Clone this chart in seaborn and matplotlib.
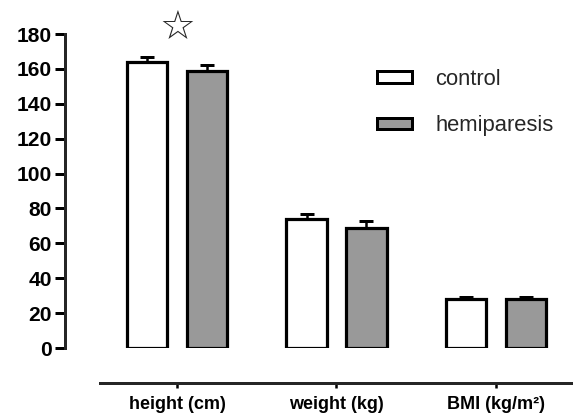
import matplotlib
matplotlib.use("Agg")
import matplotlib.pyplot as plt
import seaborn as sns
import pandas as pd
from matplotlib.patches import Patch

categories = ["height (cm)", "weight (kg)", "BMI (kg/m\u00b2)"]
groups = ["control", "hemiparesis"]
control_vals = [164, 74, 28]
hemi_vals = [159, 69, 28]
control_err = [3, 3, 1]
hemi_err = [3, 4, 1]
yticks = [0, 20, 40, 60, 80, 100, 120, 140, 160, 180]

df = pd.DataFrame({
    "category": categories * 2,
    "group": [groups[0]] * 3 + [groups[1]] * 3,
    "value": control_vals + hemi_vals,
})
errs = {groups[0]: control_err, groups[1]: hemi_err}
colors = {groups[0]: "white", groups[1]: "#999999"}

sns.set_style("white")
plt.rcParams["font.family"] = ["Liberation Sans", "DejaVu Sans"]

DPI = 72
fig = plt.figure(figsize=(573 / DPI, 418 / DPI), dpi=DPI)
W, H = 573, 418
ax = fig.add_axes([65 / W, (H - 348) / H, (W - 65) / W, 314 / H])

sns.barplot(data=df, x="category", y="value", hue="group", order=categories,
            hue_order=groups, palette=colors, width=0.75, gap=0.32,
            edgecolor="black", linewidth=3.2, legend=False, ax=ax, errorbar=None)

for cont, g in zip(ax.containers, groups):
    for bar, e in zip(cont, errs[g]):
        x = bar.get_x() + bar.get_width() / 2
        h = bar.get_height()
        ax.errorbar(x, h, yerr=[[0], [e]], fmt="none", ecolor="black",
                    elinewidth=2.5, capsize=7, capthick=3, zorder=0.5)

for s in ["top", "right"]:
    ax.spines[s].set_visible(False)
ax.spines["left"].set_linewidth(3)
ax.spines["bottom"].set_linewidth(3)
ax.spines["bottom"].set_position(("outward", 35))

ax.set_ylim(0, 180)
ax.set_xlim(-0.702, 2.483)
ax.spines["left"].set_bounds(0, 180)
ax.spines["bottom"].set_bounds(-0.483, 2.483)
ax.set_yticks(yticks)
ax.set_yticklabels([str(v) for v in yticks], fontsize=21, fontweight="bold")
ax.set_xticks(range(len(categories)))
ax.set_xticklabels(categories, fontsize=18, fontweight="bold")
ax.set_xlabel("")
ax.set_ylabel("")
ax.tick_params(axis="y", left=True, length=10, width=3, pad=3, colors="black")
ax.tick_params(axis="x", bottom=True, length=5, width=2.5, pad=8, colors="black")

ax.text(0, 183.5, "\u2606", ha="center", va="center", fontsize=40,
        family="DejaVu Sans", clip_on=False)

handles = [Patch(facecolor=colors[g], edgecolor="black", linewidth=3) for g in groups]
ax.legend(handles, groups, loc="upper left", bbox_to_anchor=(377 / W, 1 - 69 / H),
          bbox_transform=fig.transFigure, frameon=False, fontsize=22,
          handlelength=1.6, handleheight=0.42, handletextpad=1.05,
          labelspacing=1.15, borderpad=0, borderaxespad=0)

fig.savefig("out.png", dpi=DPI, facecolor="white")
